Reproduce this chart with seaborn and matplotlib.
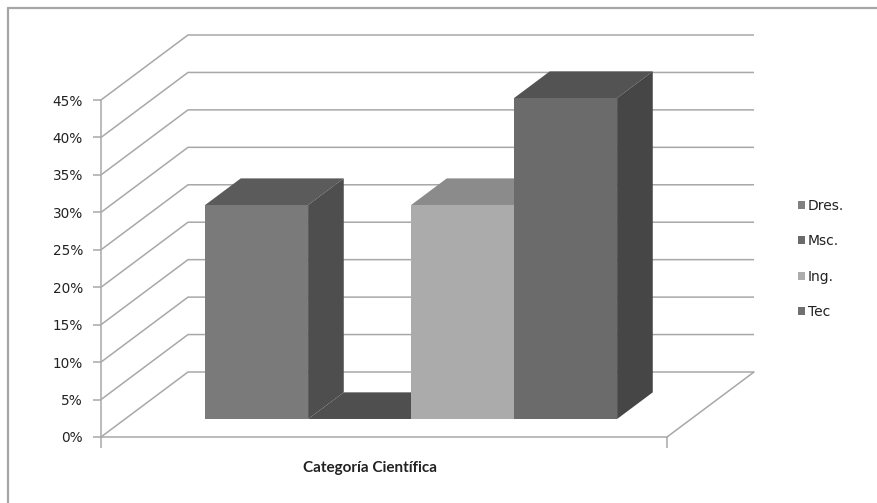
import matplotlib
matplotlib.use("Agg")
import numpy as np
import pandas as pd
import seaborn as sns
import matplotlib.pyplot as plt
import matplotlib.transforms as mtransforms
from matplotlib.patches import Polygon, Patch
from matplotlib.lines import Line2D
from matplotlib.ticker import PercentFormatter

# ---- data ----
category = ["Categoría Científica"]
series = ["Dres.", "Msc.", "Ing.", "Tec"]
values = [0.2857, 0.0, 0.2857, 0.4286]
y_ticks = [0.00, 0.05, 0.10, 0.15, 0.20, 0.25, 0.30, 0.35, 0.40, 0.45]

# ---- styles ----
front_colors = ["#7a7a7a", "#5e5e5e", "#ababab", "#6b6b6b"]
top_colors = ["#5b5b5b", "#4f4f4f", "#8b8b8b", "#535353"]
side_colors = ["#4e4e4e", "#444444", "#7a7a7a", "#464646"]
legend_colors = ["#808080", "#6a6a6a", "#adadad", "#707070"]
grid_color = "#a8a8a8"
text_color = "#222222"

sns.set_theme(style="white")
plt.rcParams["font.family"] = ["DejaVu Sans"]

W, H = 878, 503
fig = plt.figure(figsize=(W / 100, H / 100), dpi=100)
ax = fig.add_axes([101 / W, (H - 437) / H, 566 / W, 337 / H])

df = pd.DataFrame({
    "cat": category * len(series),
    "serie": series,
    "valor": values,
})
sns.barplot(data=df, x="cat", y="valor", hue="serie", hue_order=series,
            palette=front_colors, saturation=1, width=0.8, linewidth=0,
            errorbar=None, legend=False, ax=ax)

# axes geometry (front plane)
px_per_unit = 515.0
xl = -0.4 - 80 / px_per_unit
xr = xl + 566 / px_per_unit
ax.set_xlim(xl, xr)
ax.set_ylim(0, 0.45)
DX = 87 / px_per_unit          # full depth, x in data units
DY = 65 / (337 / 0.45)         # full depth, y in value units
d0, d1 = 0.277, 0.687          # bar front / back depth fractions

# walls and floor
for v in y_ticks:
    ax.plot([xl, xl + DX, xr + DX], [v, v + DY, v + DY], color=grid_color,
            lw=1.1, clip_on=False, zorder=1, solid_capstyle="butt")
ax.plot([xr, xr + DX], [0, DY], color=grid_color, lw=1.1, clip_on=False, zorder=1)

# 3D bars
bars = sorted(ax.patches, key=lambda p: p.get_x())
for i, p in enumerate(bars):
    x0, w, h = p.get_x(), p.get_width(), p.get_height()
    p.set_transform(mtransforms.Affine2D().translate(d0 * DX, d0 * DY) + ax.transData)
    p.set_clip_on(False)
    p.set_zorder(3 + i + 0.5)
    top = Polygon([(x0 + d0 * DX, h + d0 * DY), (x0 + w + d0 * DX, h + d0 * DY),
                   (x0 + w + d1 * DX, h + d1 * DY), (x0 + d1 * DX, h + d1 * DY)],
                  closed=True, facecolor=top_colors[i], edgecolor="none",
                  clip_on=False, zorder=3 + i)
    side = Polygon([(x0 + w + d0 * DX, d0 * DY), (x0 + w + d0 * DX, h + d0 * DY),
                    (x0 + w + d1 * DX, h + d1 * DY), (x0 + w + d1 * DX, d1 * DY)],
                   closed=True, facecolor=side_colors[i], edgecolor="none",
                   clip_on=False, zorder=3 + i + 0.2)
    ax.add_patch(top)
    ax.add_patch(side)

# axes styling
for s in ["top", "right"]:
    ax.spines[s].set_visible(False)
for s in ["left", "bottom"]:
    ax.spines[s].set_color(grid_color)
    ax.spines[s].set_linewidth(1.1)
ax.set_yticks(y_ticks)
ax.yaxis.set_major_formatter(PercentFormatter(1.0, decimals=0))
ax.set_xticks([xl, xr], labels=["", ""])
ax.tick_params(axis="y", direction="out", length=6, width=1.1, color=grid_color,
               labelsize=9.8, labelcolor=text_color, pad=7, left=True)
ax.tick_params(axis="x", direction="out", length=8, width=1.1, color=grid_color,
               bottom=True)
ax.set_ylabel("")
ax.set_xlabel(category[0], fontsize=11, fontweight="bold", color=text_color,
              family=["Lato", "DejaVu Sans"])
ax.xaxis.set_label_coords((370 - 101) / 566, -31 / 337)
ax.xaxis.label.set_va("center")
ax.set_facecolor("none")

# legend
handles = [Patch(facecolor=c, edgecolor="none") for c in legend_colors]
fig.legend(handles, series, loc="center left",
           bbox_to_anchor=(786 / W, 1 - 259 / H), frameon=False,
           prop={"family": "DejaVu Sans", "size": 10},
           handlelength=0.5, handleheight=0.5,
           handletextpad=0.15, labelspacing=1.55, labelcolor=text_color)

# chart border
fig.add_artist(Line2D([8 / W, 8 / W], [0, 1 - 8 / H], color="#a6a6a6", lw=1.6))
fig.add_artist(Line2D([8 / W, 1], [1 - 8 / H, 1 - 8 / H], color="#a6a6a6", lw=1.6))

fig.savefig("out.png", dpi=100)
